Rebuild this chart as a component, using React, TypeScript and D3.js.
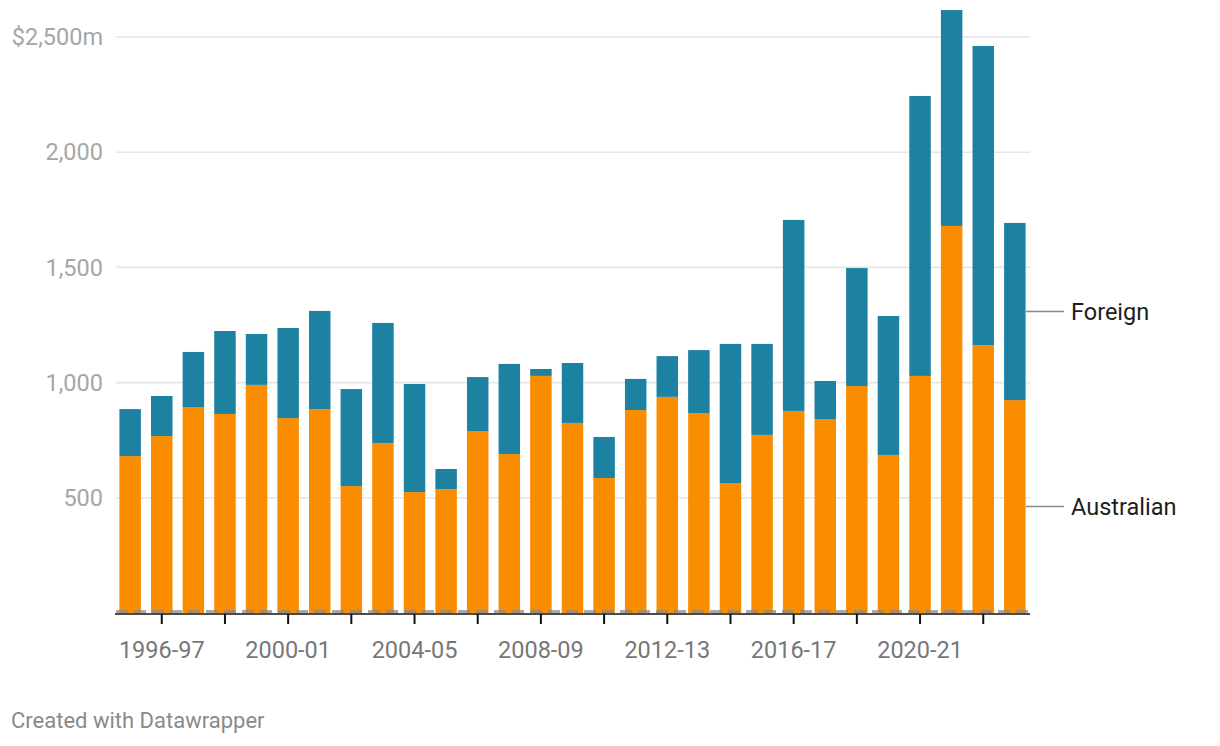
import { useEffect, useRef } from "react";
import * as d3 from "d3";

const years = [
  "1995-96", "1996-97", "1997-98", "1998-99", "1999-00", "2000-01", "2001-02", "2002-03",
  "2003-04", "2004-05", "2005-06", "2006-07", "2007-08", "2008-09", "2009-10", "2010-11",
  "2011-12", "2012-13", "2013-14", "2014-15", "2015-16", "2016-17", "2017-18", "2018-19",
  "2019-20", "2020-21", "2021-22", "2022-23", "2023-24",
];

const australian = [
  681, 768, 894, 864, 990, 846, 885, 551, 738, 525, 538, 790, 690, 1029, 825, 586,
  881, 938, 868, 564, 773, 877, 842, 985, 686, 1029, 1680, 1163, 924,
];

const foreign = [
  204, 174, 239, 360, 221, 391, 426, 421, 521, 469, 87, 234, 391, 30, 260, 178,
  135, 177, 273, 604, 395, 829, 165, 512, 603, 1215, 937, 1298, 769,
];

const yTicks = [500, 1000, 1500, 2000, 2500];
const tickYears = years.filter((_, i) => i % 2 === 1);
const labelYears = years.filter((_, i) => i % 4 === 1);

const seriesKeys = ["australian", "foreign"];
const seriesNames: Record<string, string> = { australian: "Australian", foreign: "Foreign" };
const colors: Record<string, string> = { australian: "#fa8c00", foreign: "#1d81a2" };

const App = () => {
  const svgRef = useRef<SVGSVGElement | null>(null);

  useEffect(() => {
    const width = 1220;
    const height = 746;
    const left = 115;
    const right = 1030;
    const top = 37;
    const bottom = 613;

    const svg = d3.select(svgRef.current).attr("width", width).attr("height", height);
    svg.selectAll("*").remove();
    const font = "Roboto, 'Noto Sans', sans-serif";

    const rows = years.map((y, i) => ({ year: y, australian: australian[i], foreign: foreign[i] }));
    const stacked = d3.stack<any>().keys(seriesKeys)(rows);

    const x = d3.scaleBand().domain(years).range([left, right]).paddingInner(0.32).paddingOuter(0.14);
    const y = d3.scaleLinear().domain([0, 2500]).range([bottom, top]);

    // grid
    svg.append("g")
      .selectAll("line")
      .data(yTicks)
      .enter()
      .append("line")
      .attr("x1", left + 1)
      .attr("x2", right)
      .attr("y1", (d) => y(d))
      .attr("y2", (d) => y(d))
      .attr("stroke", "#e6e6e6")
      .attr("stroke-width", 1.6);

    svg.append("g")
      .selectAll("text")
      .data(yTicks)
      .enter()
      .append("text")
      .attr("x", 103)
      .attr("y", (d) => y(d))
      .attr("dy", "0.35em")
      .attr("text-anchor", "end")
      .attr("font-family", font)
      .attr("font-size", 23.5)
      .attr("fill", "#a6a6a6")
      .text((d) => (d === 2500 ? "$" + d3.format(",")(d) + "m" : d3.format(",")(d)));

    // bars
    svg.append("g")
      .selectAll("g")
      .data(stacked)
      .enter()
      .append("g")
      .attr("fill", (s) => colors[s.key])
      .selectAll("rect")
      .data((s) => s)
      .enter()
      .append("rect")
      .attr("x", (d) => x(d.data.year)!)
      .attr("width", x.bandwidth())
      .attr("y", (d) => y(d[1]))
      .attr("height", (d) => y(d[0]) - y(d[1]));

    // dashed zero marker
    svg.append("line")
      .attr("x1", left + 1)
      .attr("x2", right)
      .attr("y1", bottom - 1.4)
      .attr("y2", bottom - 1.4)
      .attr("stroke", "#888")
      .attr("stroke-opacity", 0.72)
      .attr("stroke-width", 3.2)
      .attr("stroke-dasharray", "12,6");

    // x axis
    svg.append("line")
      .attr("x1", left)
      .attr("x2", right)
      .attr("y1", bottom + 1)
      .attr("y2", bottom + 1)
      .attr("stroke", "#111")
      .attr("stroke-width", 1.7);

    svg.append("g")
      .selectAll("line")
      .data(tickYears)
      .enter()
      .append("line")
      .attr("x1", (d) => x(d)! + x.bandwidth() / 2)
      .attr("x2", (d) => x(d)! + x.bandwidth() / 2)
      .attr("y1", bottom + 1)
      .attr("y2", bottom + 11)
      .attr("stroke", "#111")
      .attr("stroke-width", 2);

    svg.append("g")
      .selectAll("text")
      .data(labelYears)
      .enter()
      .append("text")
      .attr("x", (d) => x(d)! + x.bandwidth() / 2)
      .attr("y", 658)
      .attr("text-anchor", "middle")
      .attr("font-family", font)
      .attr("font-size", 23.5)
      .attr("fill", "#777")
      .text((d) => d);

    // direct labels at last bar
    const lastIdx = years.length - 1;
    stacked.forEach((s) => {
      const d = s[lastIdx];
      const my = (y(d[0]) + y(d[1])) / 2;
      svg.append("line")
        .attr("x1", right - 4)
        .attr("x2", 1064)
        .attr("y1", my)
        .attr("y2", my)
        .attr("stroke", "#888")
        .attr("stroke-width", 1.6);
      svg.append("text")
        .attr("x", 1071)
        .attr("y", my)
        .attr("dy", "0.35em")
        .attr("font-family", font)
        .attr("font-size", 23.5)
        .attr("fill", "#1d1d1d")
        .text(seriesNames[s.key]);
    });

    svg.append("text")
      .attr("x", 11)
      .attr("y", 728)
      .attr("font-family", font)
      .attr("font-size", 22)
      .attr("fill", "#8a8a8a")
      .text("Created with Datawrapper");
  }, []);

  return (
    <div style={{ position: "absolute", left: 0, top: 0, background: "#fff" }}>
      <svg ref={svgRef} style={{ display: "block" }}></svg>
    </div>
  );
};

export default App;
